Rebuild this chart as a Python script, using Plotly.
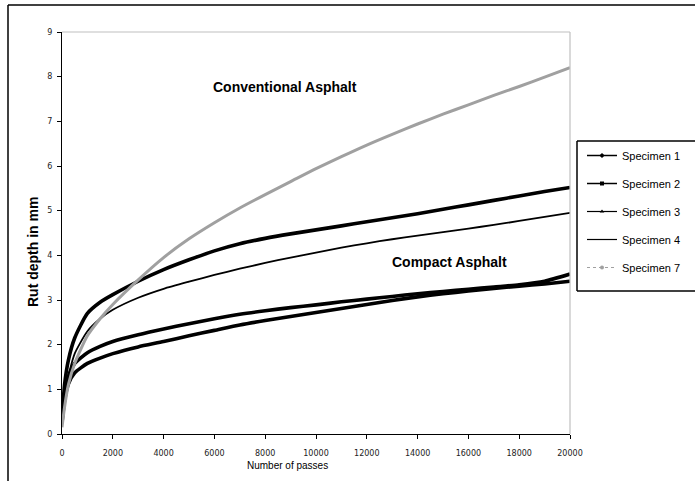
import plotly.graph_objects as go

passes = [0, 100, 250, 500, 1000, 1500, 2000, 3000, 4000, 5000, 6000, 7000, 8000, 9000,
          10000, 11000, 12000, 13000, 14000, 15000, 16000, 17000, 18000, 19000, 20000]

specimen_1 = [0.3, 1.1, 1.65, 2.15, 2.7, 2.95, 3.12, 3.42, 3.68, 3.9, 4.1, 4.26, 4.38, 4.48,
              4.57, 4.66, 4.75, 4.84, 4.93, 5.03, 5.13, 5.23, 5.33, 5.43, 5.52]
specimen_2 = [0.3, 0.9, 1.28, 1.58, 1.82, 1.96, 2.07, 2.22, 2.35, 2.47, 2.58, 2.68, 2.76, 2.83,
              2.89, 2.96, 3.02, 3.08, 3.14, 3.19, 3.24, 3.29, 3.34, 3.42, 3.58]
specimen_3 = [0.25, 0.75, 1.12, 1.37, 1.58, 1.7, 1.8, 1.95, 2.07, 2.2, 2.32, 2.44, 2.54, 2.63,
              2.72, 2.81, 2.9, 2.99, 3.07, 3.14, 3.2, 3.26, 3.31, 3.36, 3.42]
specimen_4 = [0.3, 0.9, 1.3, 1.8, 2.3, 2.58, 2.78, 3.05, 3.25, 3.41, 3.56, 3.7, 3.83, 3.95,
              4.06, 4.17, 4.27, 4.36, 4.44, 4.52, 4.6, 4.68, 4.77, 4.86, 4.95]
specimen_7 = [0.15, 0.6, 1.1, 1.58, 2.2, 2.58, 2.9, 3.45, 3.95, 4.37, 4.73, 5.06, 5.36, 5.65,
              5.94, 6.21, 6.47, 6.71, 6.94, 7.16, 7.37, 7.58, 7.78, 7.99, 8.2]

series_names = ["Specimen 1", "Specimen 2", "Specimen 3", "Specimen 4", "Specimen 7"]
series_values = [specimen_1, specimen_2, specimen_3, specimen_4, specimen_7]

x_ticks = [0, 2000, 4000, 6000, 8000, 10000, 12000, 14000, 16000, 18000, 20000]
y_ticks = [0, 1, 2, 3, 4, 5, 6, 7, 8, 9]

styles = [
    dict(color="#000000", width=3.6, legend_width=1.5, marker="diamond"),
    dict(color="#000000", width=3.6, legend_width=1.5, marker="square"),
    dict(color="#000000", width=3.6, legend_width=1.2, marker="triangle-up"),
    dict(color="#000000", width=1.8, legend_width=1.2, marker=None),
    dict(color="#a0a0a0", width=3.0, legend_width=1.0, marker="circle"),
]

fig = go.Figure()

# data curves
for name, vals, st in zip(series_names, series_values, styles):
    fig.add_trace(go.Scatter(
        x=passes, y=vals, mode="lines", name=name, showlegend=False,
        line=dict(color=st["color"], width=st["width"], shape="spline", smoothing=0.6),
        hoverinfo="x+y+name",
    ))

# legend entries
for name, st in zip(series_names, styles):
    fig.add_trace(go.Scatter(
        x=[None], y=[None], name=name, legendgroup=name,
        mode="lines+markers" if st["marker"] else "lines",
        line=dict(color=st["color"], width=st["legend_width"],
                  dash="dot" if st["color"] != "#000000" else "solid"),
        marker=dict(symbol=st["marker"] or "circle", size=4, color=st["color"]),
    ))

W, H = 695, 481
L, R, T, B = 62, 125, 32, 47
pw, ph = W - L - R, H - T - B

def px_x(px):
    return (px - L) / pw

def px_y(py):
    return (H - B - py) / ph

shapes = [
    # light grey plot frame (top & right)
    dict(type="line", xref="paper", yref="paper", x0=0, x1=1, y0=1, y1=1,
         line=dict(color="#c0c0c0", width=1.2)),
    dict(type="line", xref="paper", yref="paper", x0=1, x1=1, y0=0, y1=1,
         line=dict(color="#c0c0c0", width=1.2)),
    # outer chart border
    dict(type="line", xref="paper", yref="paper", x0=px_x(8), x1=px_x(695), y0=px_y(5), y1=px_y(5),
         line=dict(color="#000000", width=1.5)),
    dict(type="line", xref="paper", yref="paper", x0=px_x(8), x1=px_x(8), y0=px_y(5), y1=px_y(481),
         line=dict(color="#000000", width=1.5)),
    # legend box (open on the right, clipped by the image edge)
    dict(type="line", xref="paper", yref="paper", x0=px_x(577), x1=px_x(695), y0=px_y(141), y1=px_y(141),
         line=dict(color="#000000", width=1.5)),
    dict(type="line", xref="paper", yref="paper", x0=px_x(577), x1=px_x(695), y0=px_y(291), y1=px_y(291),
         line=dict(color="#000000", width=1.5)),
    dict(type="line", xref="paper", yref="paper", x0=px_x(577), x1=px_x(577), y0=px_y(141), y1=px_y(291),
         line=dict(color="#000000", width=1.5)),
]

font_main = "Liberation Sans, Arial"
annotations = [
    dict(text="<b>Conventional Asphalt</b>", x=px_x(285), y=px_y(87)),
    dict(text="<b>Compact Asphalt</b>", x=px_x(449), y=px_y(262)),
    dict(text="<b>Rut depth in mm</b>", x=px_x(33), y=px_y(252), textangle=-90),
    dict(text="Number of passes", x=px_x(287), y=px_y(465), font=dict(family=font_main, size=10, color="#000")),
]
for a in annotations:
    a.setdefault("font", dict(family=font_main, size=14, color="#000"))
    a.update(xref="paper", yref="paper", showarrow=False, xanchor="center", yanchor="middle")

fig.update_layout(
    width=W, height=H,
    margin=dict(l=L, r=R, t=T, b=B, pad=0, autoexpand=False),
    paper_bgcolor="white", plot_bgcolor="white",
    font=dict(family=font_main, color="#000"),
    showlegend=True,
    legend=dict(
        x=px_x(582), y=px_y(141), xanchor="left", yanchor="top",
        bgcolor="rgba(0,0,0,0)", borderwidth=0,
        font=dict(family=font_main, size=11, color="#000"),
        tracegroupgap=9, itemwidth=30,
    ),
    xaxis=dict(
        range=[0, 20000], tickvals=x_ticks, ticktext=[str(v) for v in x_ticks],
        showgrid=False, zeroline=False, showline=True, linecolor="#000", linewidth=1.3,
        ticks="outside", ticklen=4, tickcolor="#000", tickwidth=1,
        tickfont=dict(family="DejaVu Sans", size=8, color="#222"), ticklabelstandoff=7,
    ),
    yaxis=dict(
        range=[0, 9], tickvals=y_ticks, ticktext=[str(v) for v in y_ticks],
        showgrid=False, zeroline=False, showline=True, linecolor="#000", linewidth=1.3,
        ticks="outside", ticklen=4, tickcolor="#000", tickwidth=1,
        tickfont=dict(family="DejaVu Sans", size=8, color="#222"), ticklabelstandoff=3,
    ),
    shapes=shapes, annotations=annotations,
)

fig.write_html(
    "out.html",
    config={"displayModeBar": False},
    post_script=("document.body.style.margin='0px';"
                 "document.body.style.overflow='hidden';"
                 "document.documentElement.style.overflow='hidden';"),
)
